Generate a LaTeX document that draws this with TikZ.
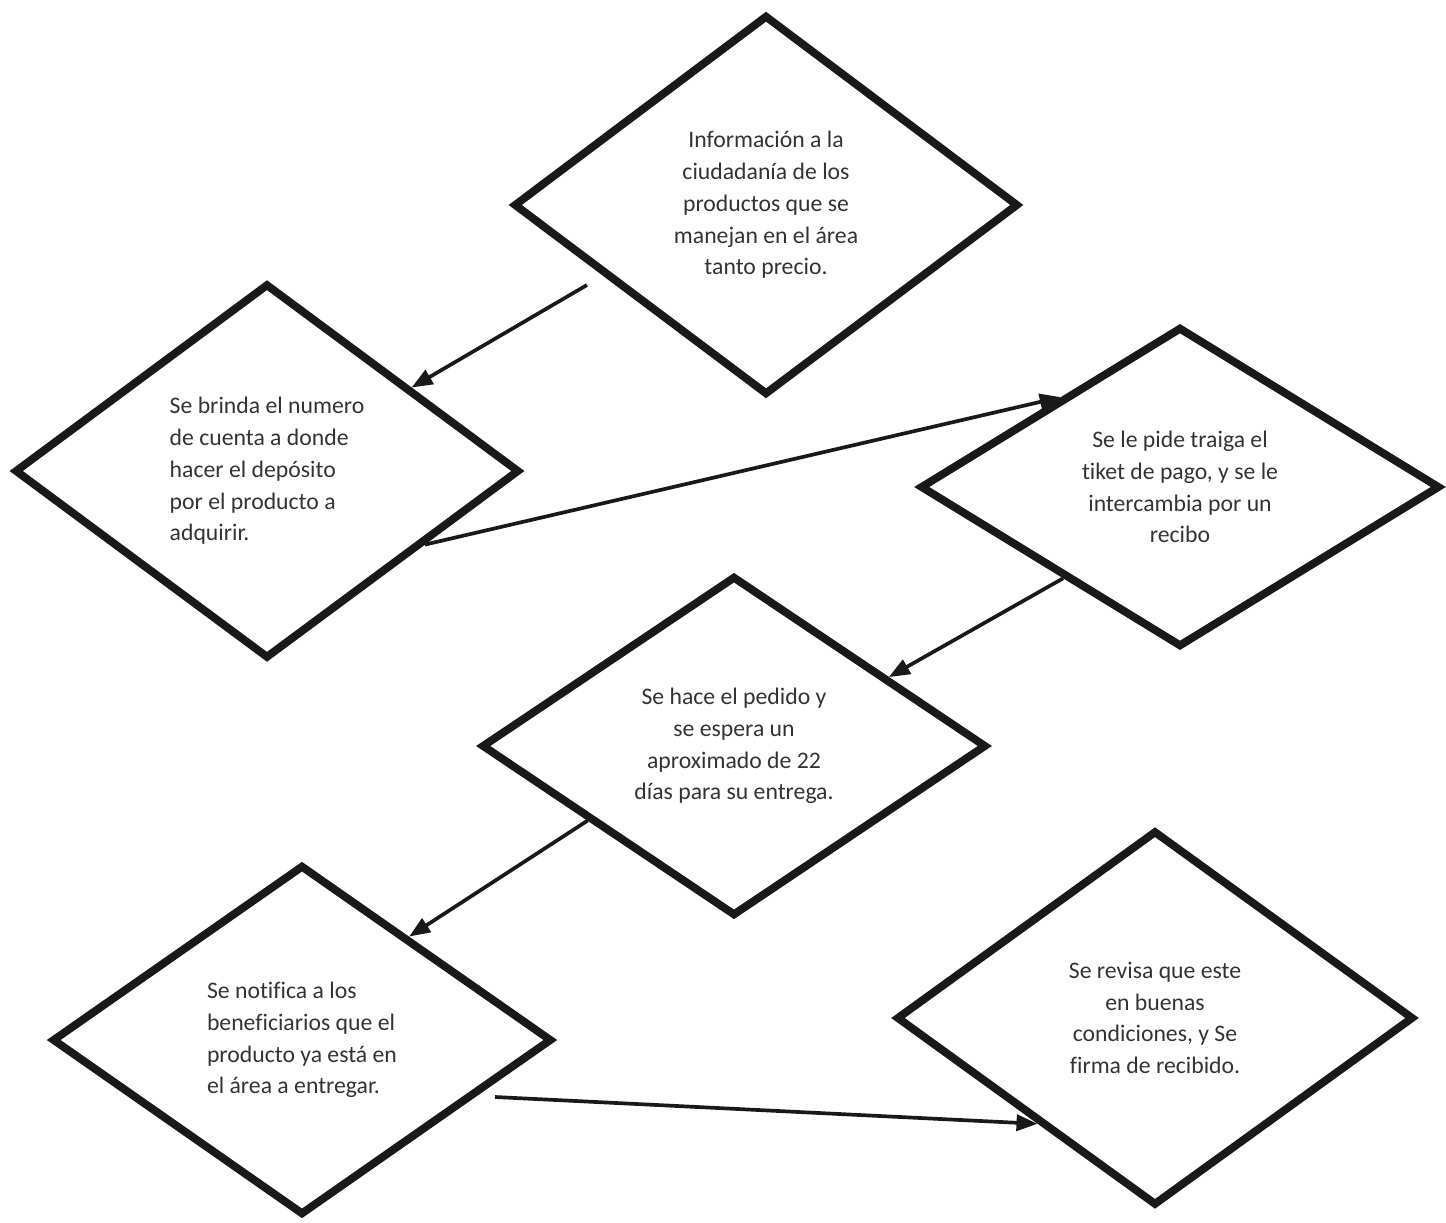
\documentclass[tikz,border=0pt]{standalone}
\usepackage{fontspec}
\setmainfont[Ligatures=NoCommon]{Carlito}
\usetikzlibrary{shapes.geometric,arrows.meta}
\begin{document}
\begin{tikzpicture}[x=0.02cm,y=-0.02cm,
    rombo/.style={diamond,draw=black!90,line width=4.5pt,text=black!80,
      font=\fontsize{13.5}{18.1}\selectfont,inner sep=0pt},
    freccia/.style={line width=2.1pt,draw=black!90},
    >={Triangle[length=0.42cm,width=0.32cm]}]
  \useasboundingbox (0,0) rectangle (1446,1223);

  % Rombi
  \node[rombo,minimum width=10.1cm,minimum height=7.6cm,align=center] (1) at (766,205)
    {Información a la\\ciudadanía de los\\productos que se\\manejan en el área\\tanto precio.};
  \node[rombo,minimum width=10.1cm,minimum height=7.5cm,align=left] (2) at (267,471)
    {Se brinda el numero\\de cuenta a donde\\hacer el depósito\\por el producto a\\adquirir.};
  \node[rombo,minimum width=10.4cm,minimum height=6.4cm,align=center] (3) at (1180,487)
    {Se le pide traiga el\\tiket de pago, y se le\\intercambia por un\\recibo};
  \node[rombo,minimum width=10.1cm,minimum height=6.8cm,align=center] (4) at (734,746)
    {Se hace el pedido y\\se espera un\\aproximado de 22\\días para su entrega.};
  \node[rombo,minimum width=10cm,minimum height=7cm,align=left] (5) at (302,1040)
    {Se notifica a los\\beneficiarios que el\\producto ya está en\\el área a entregar.};
  \node[rombo,minimum width=10.35cm,minimum height=7.5cm,align=center] (6) at (1155,1018)
    {Se revisa que este\\en buenas\\condiciones, y Se\\firma de recibido.};

  % Frecce
  \coordinate (a1) at (587,285);
  \coordinate (a5) at (495,1097);
  \draw[freccia,->] (a1) -- (2.30);
  \draw[freccia,->] (2.335) -- (3.143);
  \draw[freccia,->] (3.218) -- (4.24);
  \draw[freccia,->] (4.207) -- (5.44);
  \draw[freccia,->] (a5) -- (6.222);
\end{tikzpicture}
\end{document}
